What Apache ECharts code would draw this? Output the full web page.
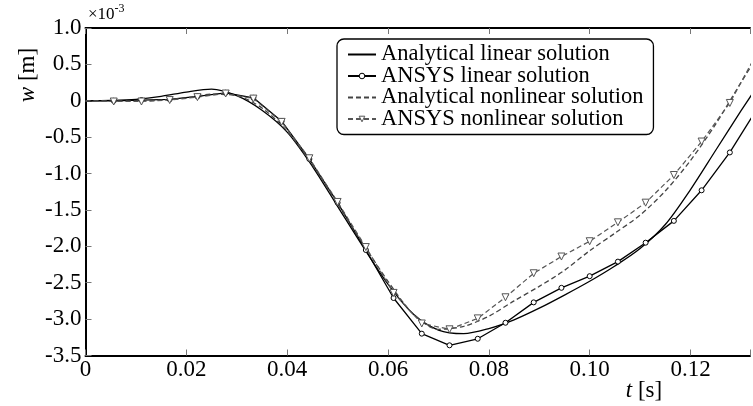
<!DOCTYPE html>
<html>
<head>
<meta charset="utf-8">
<script src="https://cdn.jsdelivr.net/npm/echarts@6/dist/echarts.min.js"></script>
<style>
  html, body { margin: 0; padding: 0; background: #fff; }
  #chart { width: 753px; height: 406px; }
</style>
</head>
<body>
<div id="chart"></div>
<script>
// time samples (s) of the analytical curves
const analyticT = [0, 0.005, 0.01, 0.015, 0.02, 0.025, 0.03, 0.035, 0.04, 0.045,
  0.05, 0.055, 0.06, 0.065, 0.07, 0.075, 0.08, 0.085, 0.09, 0.095,
  0.1, 0.105, 0.11, 0.115, 0.12, 0.125, 0.13, 0.135]
// time steps (s) of the ANSYS results
const ansysT = [0, 0.0056, 0.0111, 0.0167, 0.0222, 0.0278, 0.0333, 0.0389, 0.0444, 0.05,
  0.0556, 0.0611, 0.0667, 0.0722, 0.0778, 0.0833, 0.0889, 0.0944, 0.1, 0.1056,
  0.1111, 0.1167, 0.1222, 0.1278, 0.1333]

// w in units of 1e-3 m
const analyticLinear = [0, 0.005, 0.02, 0.06, 0.12, 0.16, 0.07, -0.13, -0.43, -0.90,
  -1.45, -2.00, -2.52, -2.93, -3.15, -3.20, -3.13, -3.01, -2.85, -2.67,
  -2.48, -2.27, -2.03, -1.70, -1.22, -0.68, -0.14, 0.38]
const ansysLinear = [0, 0.0, 0.01, 0.02, 0.06, 0.11, 0.04, -0.28, -0.80, -1.40,
  -2.05, -2.71, -3.20, -3.36, -3.27, -3.05, -2.77, -2.57, -2.41, -2.21,
  -1.95, -1.65, -1.23, -0.71, -0.10]
const analyticNonlinear = [0, 0.0, 0.0, 0.01, 0.04, 0.09, 0.07, -0.10, -0.42, -0.88,
  -1.42, -1.96, -2.48, -2.93, -3.14, -3.10, -2.96, -2.75, -2.55, -2.33,
  -2.06, -1.82, -1.57, -1.24, -0.82, -0.32, 0.25, 0.80]
const ansysNonlinear = [0, -0.01, -0.01, 0.01, 0.05, 0.10, 0.03, -0.29, -0.79, -1.39,
  -2.01, -2.64, -3.06, -3.14, -2.99, -2.70, -2.37, -2.14, -1.93, -1.67,
  -1.40, -1.02, -0.56, -0.03, 0.67]

const xTicks = [0, 0.02, 0.04, 0.06, 0.08, 0.10, 0.12]
const legendNames = ['Analytical linear solution', 'ANSYS linear solution',
  'Analytical nonlinear solution', 'ANSYS nonlinear solution']

const FONT = '"Liberation Serif", "DejaVu Serif", serif'

function pairs (ts, ws, hideFirst) {
  return ts.map((t, i) => {
    if (hideFirst && i === 0) return { value: [t, ws[i]], symbol: 'none' }
    return [t, ws[i]]
  })
}

const chart = echarts.init(document.getElementById('chart'))

const axisCommon = {
  type: 'value',
  min: 0,
  max: 0.1318,
  interval: 0.02,
  axisLine: { show: true, onZero: false, lineStyle: { color: '#000', width: 2 } },
  axisTick: { show: true, inside: true, length: 6, lineStyle: { color: '#777', width: 1 } },
  splitLine: { show: false }
}

const option = {
  backgroundColor: '#fff',
  animation: false,
  grid: { left: 85.5, top: 28, right: -2, bottom: 50.5 },
  xAxis: [
    Object.assign({}, axisCommon, {
      position: 'bottom',
      axisLabel: {
        color: '#000',
        fontFamily: FONT,
        fontSize: 23,
        margin: 3,
        formatter: (v) => {
          const hit = xTicks.find(t => Math.abs(t - v) < 1e-6)
          if (hit === undefined) return ''
          return hit === 0 ? '0' : hit.toFixed(2)
        }
      }
    }),
    Object.assign({}, axisCommon, {
      position: 'top',
      axisLabel: { show: false }
    })
  ],
  yAxis: {
    type: 'value',
    min: -3.5,
    max: 1.0,
    interval: 0.5,
    axisLine: { show: true, lineStyle: { color: '#000', width: 2 } },
    axisTick: { show: true, inside: true, length: 6, lineStyle: { color: '#777', width: 1 } },
    splitLine: { show: false },
    axisLabel: {
      color: '#000',
      fontFamily: FONT,
      fontSize: 23,
      margin: 4,
      formatter: (v) => (Math.abs(v) < 1e-9 ? '0' : v.toFixed(1))
    }
  },
  legend: {
    data: [
      legendNames[0],
      { name: legendNames[1], itemStyle: { color: '#fff', borderColor: '#000', borderWidth: 1 } },
      legendNames[2],
      { name: legendNames[3], itemStyle: { color: '#fff', borderColor: '#555', borderWidth: 1 } }
    ],
    orient: 'vertical',
    left: 337,
    top: 39,
    itemGap: -1.5,
    itemWidth: 28,
    itemHeight: 7,
    padding: [4, 10, 4, 10],
    backgroundColor: '#fff',
    borderColor: '#000',
    borderWidth: 1.3,
    borderRadius: 7,
    textStyle: { color: '#000', fontFamily: FONT, fontSize: 22.5, lineHeight: 21 }
  },
  graphic: [
    {
      type: 'text',
      left: 88,
      top: 3,
      style: {
        text: '{a|×10}{b|-3}',
        rich: {
          a: { fontFamily: FONT, fontSize: 17, fill: '#000', verticalAlign: 'bottom' },
          b: { fontFamily: FONT, fontSize: 12, fill: '#000', verticalAlign: 'top', padding: [0, 0, 8, 0] }
        }
      }
    },
    {
      type: 'text',
      x: 28,
      y: 75,
      rotation: Math.PI / 2,
      style: {
        text: '{i|w} [m]',
        fontFamily: FONT,
        fontSize: 23,
        fill: '#000',
        align: 'center',
        verticalAlign: 'middle',
        rich: { i: { fontFamily: FONT, fontSize: 23, fontStyle: 'italic', fill: '#000' } }
      }
    },
    {
      type: 'text',
      x: 644,
      y: 391,
      style: {
        text: '{i|t} [s]',
        fontFamily: FONT,
        fontSize: 23,
        fill: '#000',
        align: 'center',
        verticalAlign: 'middle',
        rich: { i: { fontFamily: FONT, fontSize: 23, fontStyle: 'italic', fill: '#000' } }
      }
    }
  ],
  series: [
    {
      name: legendNames[0],
      type: 'line',
      smooth: 0.3,
      symbol: 'none',
      lineStyle: { color: '#000', width: 1.3 },
      // transparent item so the legend shows only the line
      itemStyle: { color: 'rgba(0,0,0,0)', borderWidth: 0 },
      data: pairs(analyticT, analyticLinear)
    },
    {
      name: legendNames[1],
      type: 'line',
      symbol: 'circle',
      symbolSize: 5,
      lineStyle: { color: '#000', width: 1.3 },
      itemStyle: { color: '#fff', borderColor: '#000', borderWidth: 1 },
      data: pairs(ansysT, ansysLinear, true)
    },
    {
      name: legendNames[2],
      type: 'line',
      smooth: 0.3,
      symbol: 'none',
      lineStyle: { color: '#444', width: 1.3, type: [5, 3] },
      itemStyle: { color: 'rgba(0,0,0,0)', borderWidth: 0 },
      data: pairs(analyticT, analyticNonlinear)
    },
    {
      name: legendNames[3],
      type: 'line',
      symbol: 'triangle',
      symbolRotate: 180,
      symbolSize: 7,
      lineStyle: { color: '#555', width: 1.2, type: [5, 3] },
      itemStyle: { color: '#fff', borderColor: '#555', borderWidth: 1 },
      data: pairs(ansysT, ansysNonlinear, true)
    }
  ]
}

chart.setOption(option)
</script>
</body>
</html>
